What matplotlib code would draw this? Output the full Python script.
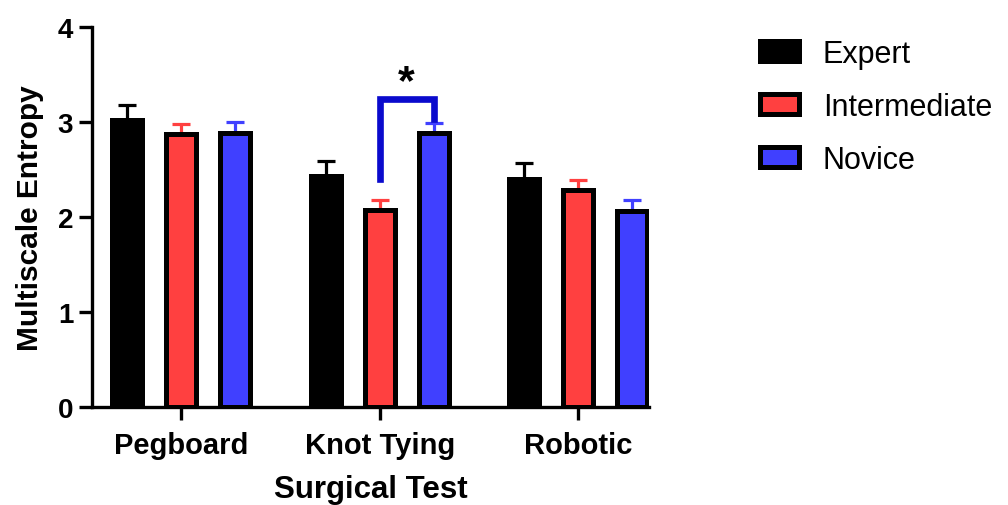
import numpy as np
import matplotlib.pyplot as plt
from matplotlib.patches import Patch

plt.rcParams['font.family'] = ['Liberation Sans', 'DejaVu Sans']

# ------------------------------------------------------------
# Data
# ------------------------------------------------------------
tests = ["Pegboard", "Knot Tying", "Robotic"]
groups = ["Expert", "Intermediate", "Novice"]
colors = ["#000000", "#ff4040", "#4040ff"]

expert = [3.02, 2.43, 2.40]
intermediate = [2.87, 2.07, 2.28]
novice = [2.88, 2.88, 2.06]

expert_err = [0.16, 0.16, 0.17]
intermediate_err = [0.11, 0.11, 0.11]
novice_err = [0.12, 0.11, 0.12]

values = [expert, intermediate, novice]
errors = [expert_err, intermediate_err, novice_err]

# significance bracket: Knot Tying, Intermediate vs Novice
sig_test = 1
sig_pair = (1, 2)
sig_top = 3.24
sig_left_bottom = 2.40
sig_right_bottom = 3.03

# ------------------------------------------------------------
# Plot
# ------------------------------------------------------------
fig = plt.figure(figsize=(10.08, 5.06), dpi=100)
ax = fig.add_axes([0.0913, 0.194, 0.553, 0.751])

x = np.arange(len(tests))
step = 0.272
width = 0.152

for i, (vals, errs, col) in enumerate(zip(values, errors, colors)):
    pos = x + (i - 1) * step
    ax.bar(pos, vals, width, color=col, edgecolor="black", linewidth=3.6, zorder=2)
    ax.errorbar(pos, vals, yerr=[np.zeros(len(errs)), errs], fmt="none",
                ecolor=col, elinewidth=2.3, capsize=6.5, capthick=2.3, zorder=1)

# bracket
xl = sig_test + (sig_pair[0] - 1) * step
xr = sig_test + (sig_pair[1] - 1) * step
ax.plot([xl, xl, xr, xr], [sig_left_bottom, sig_top, sig_top, sig_right_bottom],
        color="#0a0acd", linewidth=4.8, solid_joinstyle="miter", zorder=3)
ax.text((xl + xr) / 2, sig_top - 0.03, "*", ha="center", va="bottom",
        fontsize=31, fontweight="bold")

ax.set_xlim(-0.45, 2.36)
ax.set_ylim(0, 4)
ax.set_yticks([0, 1, 2, 3, 4])
ax.set_xticks(x)
ax.set_xticklabels(tests, fontsize=21, fontweight="bold")
for lab in ax.get_yticklabels():
    lab.set_fontsize(20)
    lab.set_fontweight("bold")

ax.set_ylabel("Multiscale Entropy", fontsize=21.5, fontweight="bold", labelpad=10)
ax.set_xlabel("Surgical Test", fontsize=22.5, fontweight="bold", labelpad=11)

for side in ["top", "right"]:
    ax.spines[side].set_visible(False)
for side in ["left", "bottom"]:
    ax.spines[side].set_linewidth(2.4)
ax.tick_params(axis="both", width=2.4, length=9.5)
ax.tick_params(axis="x", pad=8)
ax.tick_params(axis="y", pad=4)

handles = [Patch(facecolor=c, edgecolor="black", linewidth=3.6) for c in colors]
fig.legend(handles, groups, loc="upper left", bbox_to_anchor=(0.727, 0.975),
           frameon=False, fontsize=22, handlelength=1.25, handleheight=0.62,
           labelspacing=0.75, handletextpad=0.8)

fig.savefig("out.png", dpi=100)
